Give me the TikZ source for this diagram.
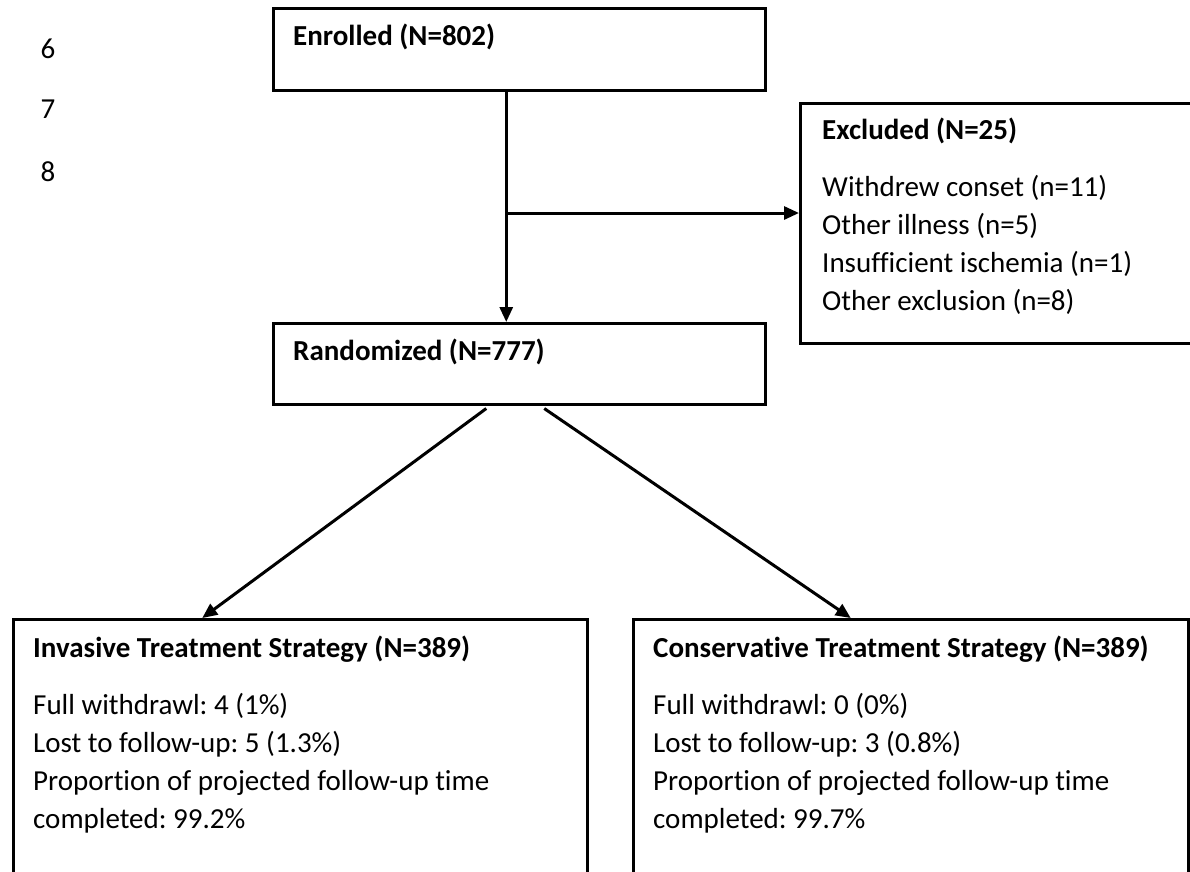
\documentclass[tikz,border=0pt]{standalone}
\usepackage{fontspec}
\setmainfont{Carlito}[Ligatures=NoCommon]
\frenchspacing
\usetikzlibrary{arrows.meta, positioning}
\tikzstyle{box} = [rectangle, draw=black, line width=2.5pt, anchor=north west,
inner sep=0pt]
\tikzstyle{txt} = [anchor=north west, inner sep=0pt, align=left,
font=\fontsize{29}{38}\selectfont]
\tikzstyle{num} = [inner sep=0pt, font=\fontsize{29}{38}\selectfont]
\tikzstyle{arrow} = [line width=3pt, -{Triangle[length=15pt, width=13pt]}]
\begin{document}
\begin{tikzpicture}[x=1pt, y=-1pt]
\clip (0,0) rectangle (1190,871);

% line numbers
\node(six)[num] at (48,49){6};
\node(seven)[num] at (48,109){7};
\node(eight)[num] at (48,172){8};

% boxes
\node(enrolled)[box, minimum width=492pt, minimum height=82pt] at (272,7){};
\node(excl)[box, minimum width=393pt, minimum height=240pt] at (799,102){};
\node(random)[box, minimum width=492pt, minimum height=81pt] at (272,322){};
\node(invasive)[box, minimum width=574pt, minimum height=300pt] at (12,618){};
\node(conserv)[box, minimum width=555pt, minimum height=300pt] at (632,618){};

% texts
\node(enrolledTxt)[txt, below right=17pt and 21pt of enrolled.north west]{\bfseries
Enrolled (N=802)};
\node(exclTxt)[txt, below right=16pt and 23pt of excl.north west]{\textbf{Excluded
(N=25)}\\[19pt] Withdrew conset (n=11)\\ Other illness (n=5)\\ Insufficient
ischemia (n=1)\\ Other exclusion (n=8)};
\node(randomTxt)[txt, below right=17pt and 21pt of random.north west]{\bfseries
Randomized (N=777)};
\node(invasiveTxt)[txt, below right=18pt and 21pt of invasive.north west]{\textbf{Invasive
Treatment Strategy (N=389)}\\[19pt] Full withdrawl: 4 (1\%)\\ Lost to follow-up: 5
(1.3\%)\\ Proportion of projected follow-up time\\ completed: 99.2\%};
\node(conservTxt)[txt, below right=18pt and 21pt of conserv.north west]{\textbf{Conservative
Treatment Strategy (N=389)}\\[19pt] Full withdrawl: 0 (0\%)\\ Lost to follow-up: 3
(0.8\%)\\ Proportion of projected follow-up time\\ completed: 99.7\%};

% connectors
\coordinate(split) at (505,213);
\draw[arrow]([xshift=-13pt]enrolled.south) -- ([xshift=-13pt]random.north);
\draw[arrow](split) -- (split -| excl.west);
\draw[arrow]([xshift=-33pt, yshift=-3pt]random.south) -- ([xshift=-98pt]invasive.north);
\draw[arrow]([xshift=25pt, yshift=-3pt]random.south) -- ([xshift=-60pt]conserv.north);

\end{tikzpicture}
\end{document}
